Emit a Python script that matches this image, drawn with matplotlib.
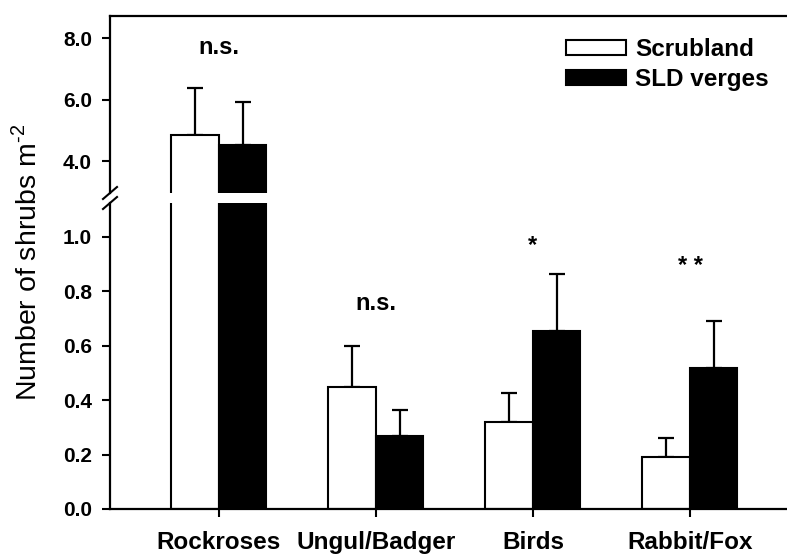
import matplotlib
matplotlib.use('Agg')
import matplotlib.pyplot as plt
import numpy as np

plt.rcParams['font.family'] = ['Liberation Sans', 'DejaVu Sans']
plt.rcParams['mathtext.fontset'] = 'custom'
plt.rcParams['mathtext.rm'] = 'Liberation Sans'

# Data
categories = ['Rockroses', 'Ungul/Badger', 'Birds', 'Rabbit/Fox']
scrub_mean = [4.85, 0.45, 0.32, 0.19]
scrub_err = [1.52, 0.15, 0.105, 0.07]
sld_mean = [4.52, 0.27, 0.655, 0.52]
sld_err = [1.40, 0.095, 0.21, 0.17]
sig_labels = ['n.s.', 'n.s.', '*', '* *']
sig_y = [7.7, 0.755, 0.97, 0.89]

W, H = 787, 555
fig = plt.figure(figsize=(W / 100, H / 100), dpi=100)

def fx(px):
    return px / W

def fy(py):
    return 1 - py / H

left, right = 110, 787
top_ax = fig.add_axes([fx(left), fy(193), fx(right - left), fy(16) - fy(193)])
bot_ax = fig.add_axes([fx(left), fy(509), fx(right - left), fy(203) - fy(509)])

x = np.arange(len(categories))
bw = 0.305

for ax in (top_ax, bot_ax):
    ax.errorbar(x - 0.15, scrub_mean, yerr=[np.zeros(4), scrub_err], fmt='none',
                ecolor='black', elinewidth=1.6, capsize=6, capthick=1.6, zorder=1)
    ax.errorbar(x + 0.15, sld_mean, yerr=[np.zeros(4), sld_err], fmt='none',
                ecolor='black', elinewidth=1.6, capsize=6, capthick=1.6, zorder=1)
    ax.bar(x - 0.15, scrub_mean, bw, color='white', edgecolor='black',
           linewidth=1.5, label='Scrubland', zorder=2)
    ax.bar(x + 0.15, sld_mean, bw, color='black', edgecolor='black',
           linewidth=1.5, label='SLD verges', zorder=2)
    ax.set_xlim(-0.694, 3.618)
    ax.spines['right'].set_visible(False)
    for s in ax.spines.values():
        s.set_linewidth(1.6)
    ax.tick_params(axis='both', direction='out', length=6, width=1.5)
    ax.tick_params(axis='y', pad=7)

top_ax.set_ylim(2.96, 8.72)
top_ax.set_yticks([4.0, 6.0, 8.0])
top_ax.set_yticklabels(['%.1f' % v for v in [4.0, 6.0, 8.0]], fontweight='bold',
                       fontsize=15)
top_ax.spines['bottom'].set_visible(False)
top_ax.set_xticks([])

bot_ax.set_ylim(0, 1.125)
ticks = [0.0, 0.2, 0.4, 0.6, 0.8, 1.0]
bot_ax.set_yticks(ticks)
bot_ax.set_yticklabels(['%.1f' % v for v in ticks], fontweight='bold', fontsize=15)
bot_ax.spines['top'].set_visible(False)
bot_ax.set_xticks(x)
bot_ax.set_xticklabels(categories, fontsize=17.5, fontweight='bold')
bot_ax.tick_params(axis='x', pad=10)

# significance labels
top_ax.text(x[0], sig_y[0], sig_labels[0], ha='center', va='center',
            fontsize=17, fontweight='bold')
for i in range(1, 4):
    bot_ax.text(x[i], sig_y[i], sig_labels[i], ha='center', va='center',
                fontsize=17, fontweight='bold')

# axis break marks
for cy in (193, 203):
    fig.add_artist(plt.Line2D([fx(left - 7), fx(left + 7)], [fy(cy + 6), fy(cy - 6)],
                              transform=fig.transFigure, color='black', lw=1.5))

# y label spanning both axes
fig.text(fx(27), fy(262), r'Number of shrubs m$^{\text{-2}}$', rotation=90,
         ha='center', va='center', fontsize=20.5)

top_ax.legend(loc='upper left', bbox_to_anchor=(fx(566), fy(38)),
              bbox_transform=fig.transFigure, frameon=False,
              prop={'weight': 'bold', 'size': 17.5}, handlelength=2.45,
              handleheight=0.55, handletextpad=0.4, labelspacing=0.3,
              borderpad=0, borderaxespad=0)

fig.savefig('out.png', dpi=100)
